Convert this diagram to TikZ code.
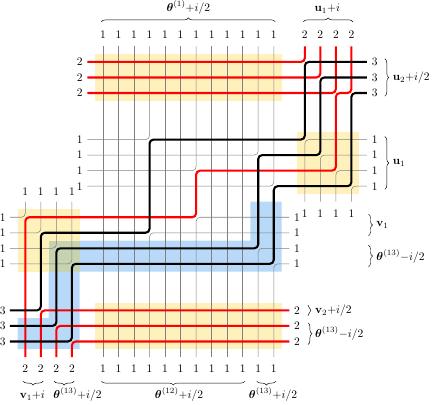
\documentclass[tikz,border=0pt]{standalone}
\usepackage{amsmath,amssymb}
\usepackage{xcolor}
\usepackage{tikz}
\usetikzlibrary{decorations.pathreplacing}
\definecolor{vmRed}{HTML}{FF0000}
\definecolor{vmInk}{HTML}{000000}
\definecolor{vmGrid}{HTML}{808080}
\definecolor{vmYellow}{HTML}{FFF1BC}
\definecolor{vmBlue}{HTML}{B9D9F9}
\definecolor{vmMixed}{HTML}{C6D3B0}
\tikzset{
  vm diagram/.style={x=0.475cm, y=-0.475cm},
  vm grid/.style={draw=vmGrid, line width=0.45pt, rounded corners=0.12cm},
  vm path/.style={line width=1.8pt, rounded corners=0.12cm},
  vm red/.style={vm path, draw=vmRed},
  vm black/.style={vm path, draw=vmInk},
  vm yellow/.style={fill=vmYellow},
  vm blue/.style={fill=vmBlue},
  vm mixed/.style={fill=vmMixed},
  vm label/.style={inner sep=0pt},
  vm brace/.style={decorate, decoration={brace, amplitude=3.5pt}, line width=0.4pt}
}

\begin{document}
\begin{tikzpicture}[vm diagram]
\useasboundingbox (-6.63,-3.99) rectangle (21.19,22.09);
% highlighted blocks
\fill[vm blue] (9.5,9) -- (11.5,9) -- (11.5,13.5) -- (-1.5,13.5) -- (-1.5,18.5)
  -- (-5.5,18.5) -- (-5.5,16.5) -- (-3.5,16.5) -- (-3.5,11.5) -- (9.5,11.5) -- cycle;
\fill[vm yellow] (-0.5,-0.5) rectangle (11.5,2.5);
\fill[vm yellow] (12.5,4.5) rectangle (16.5,8.5);
\fill[vm yellow] (-5.5,9.5) rectangle (-1.5,13.5);
\fill[vm yellow] (-0.5,15.5) rectangle (11.5,18.5);
\fill[vm mixed] (-3.5,11.5) rectangle (-1.5,13.5);

% thin lines (colour 1)
\foreach \c in {0,1,2,4,5,7,8,9}
  \draw[vm grid] (\c,19) -- (\c,-1);
\draw[vm grid] (-6,10) -- (-5,10) -- (-5,9);
\draw[vm grid] (-6,11) -- (-4,11) -- (-4,9);
\draw[vm grid] (-6,12) -- (-3,12) -- (-3,9);
\draw[vm grid] (-6,13) -- (-2,13) -- (-2,9);
\draw[vm grid] (3,19) -- (3,11) -- (12,11);
\draw[vm grid] (6,19) -- (6,10) -- (12,10);
\draw[vm grid] (10,19) -- (10,12) -- (12,12);
\draw[vm grid] (11,19) -- (11,13) -- (12,13);
\draw[vm grid] (-1,5) -- (3,5) -- (3,-1);
\draw[vm grid] (-1,6) -- (10,6) -- (10,-1);
\draw[vm grid] (-1,7) -- (6,7) -- (6,-1);
\draw[vm grid] (-1,8) -- (11,8) -- (11,-1);
\draw[vm grid] (13,9) -- (13,5) -- (17,5);
\draw[vm grid] (14,9) -- (14,6) -- (17,6);
\draw[vm grid] (15,9) -- (15,7) -- (17,7);
\draw[vm grid] (16,9) -- (16,8) -- (17,8);

% colour 2
\draw[vm red] (-5,19) -- (-5,10) -- (6,10) -- (6,7) -- (15,7) -- (15,2) -- (16,2) -- (16,-1);
\draw[vm red] (-1,0) -- (13,0) -- (13,-1);
\draw[vm red] (-1,1) -- (14,1) -- (14,-1);
\draw[vm red] (-1,2) -- (15,2) -- (15,-1);
\draw[vm red] (-4,19) -- (-4,16) -- (12,16);
\draw[vm red] (-3,19) -- (-3,17) -- (12,17);
\draw[vm red] (-2,19) -- (-2,18) -- (12,18);

% colour 3
\draw[vm black] (-6,16) -- (-4,16) -- (-4,11) -- (3,11) -- (3,5) -- (13,5) -- (13,0) -- (17,0);
\draw[vm black] (-6,17) -- (-3,17) -- (-3,12) -- (10,12) -- (10,6) -- (14,6) -- (14,1) -- (17,1);
\draw[vm black] (-6,18) -- (-2,18) -- (-2,13) -- (11,13) -- (11,8) -- (16,8) -- (16,2) -- (17,2);

% boundary colours
\foreach \c in {0,...,11} {
  \node[vm label] (top\c) at (\c,-1.75) {1};
  \node[vm label] (bot\c) at (\c,19.72) {1};
}
\foreach \c in {13,...,16} {
  \node[vm label] (top\c) at (\c,-1.75) {2};
  \node[vm label] (bot\c) at (\c,9.8) {1};
}
\foreach \c in {-5,...,-2} {
  \node[vm label] (top\c) at (\c,8.33) {1};
  \node[vm label] (bot\c) at (\c,19.72) {2};
}
\foreach \r in {0,1,2} {
  \node[vm label] (left\r) at (-1.5,\r) {2};
  \node[vm label] (right\r) at (17.5,\r) {3};
}
\foreach \r in {5,...,8} {
  \node[vm label] (left\r) at (-1.5,\r) {1};
  \node[vm label] (right\r) at (17.5,\r) {1};
}
\foreach \r in {10,...,13} {
  \node[vm label] (left\r) at (-6.45,\r) {1};
  \node[vm label] (right\r) at (12.5,\r) {1};
}
\foreach \r in {16,17,18} {
  \node[vm label] (left\r) at (-6.45,\r) {3};
  \node[vm label] (right\r) at (12.5,\r) {2};
}

% spectral parameters
\draw[vm brace] (-0.1,-2.58) -- (11.1,-2.58);
\node[anchor=base, vm label] (thetaTop) at (5.5,-3.25) {$\boldsymbol{\theta}^{(1)}{+}i/2$};
\draw[vm brace] (12.9,-2.58) -- (16.1,-2.58);
\node[anchor=base, vm label] (uTop) at (14.45,-3.25) {$\mathbf{u}_1{+}i$};
\draw[vm brace] (18.15,-0.2) -- (18.15,2.2);
\node[anchor=west, vm label] (uTwo) at (18.65,1) {$\mathbf{u}_2{+}i/2$};
\draw[vm brace] (18.15,4.8) -- (18.15,8.2);
\node[anchor=west, vm label] (uOne) at (18.65,6.5) {$\mathbf{u}_1$};
\draw[vm brace] (17.1,9.8) -- (17.1,11.2);
\node[anchor=west, vm label] (vOne) at (17.6,10.5) {$\mathbf{v}_1$};
\draw[vm brace] (17.1,11.8) -- (17.1,13.2);
\node[anchor=west, vm label] (thetaRight) at (17.6,12.5) {$\boldsymbol{\theta}^{(13)}{-}i/2$};
\draw[vm brace, decoration={amplitude=2.5pt}] (13.2,15.66) -- (13.2,16.34);
\node[anchor=west, vm label] (vTwo) at (13.65,16) {$\mathbf{v}_2{+}i/2$};
\draw[vm brace] (13.2,16.8) -- (13.2,18.2);
\node[anchor=west, vm label] (thetaLow) at (13.65,17.5) {$\boldsymbol{\theta}^{(13)}{-}i/2$};
\draw[vm brace] (-3.85,20.55) -- (-5.15,20.55);
\node[anchor=base, vm label] (vBot) at (-4.55,21.7) {$\mathbf{v}_1{+}i$};
\draw[vm brace] (-1.85,20.55) -- (-3.15,20.55);
\node[anchor=base west, vm label] (thetaBotL) at (-3.2,21.7) {$\boldsymbol{\theta}^{(13)}{+}i/2$};
\draw[vm brace] (9.15,20.55) -- (-0.1,20.55);
\node[anchor=base, vm label] (thetaBotM) at (4.9,21.7) {$\boldsymbol{\theta}^{(12)}{+}i/2$};
\draw[vm brace] (11.15,20.55) -- (9.9,20.55);
\node[anchor=base, vm label] (thetaBotR) at (10.95,21.7) {$\boldsymbol{\theta}^{(13)}{+}i/2$};
\end{tikzpicture}
\end{document}
